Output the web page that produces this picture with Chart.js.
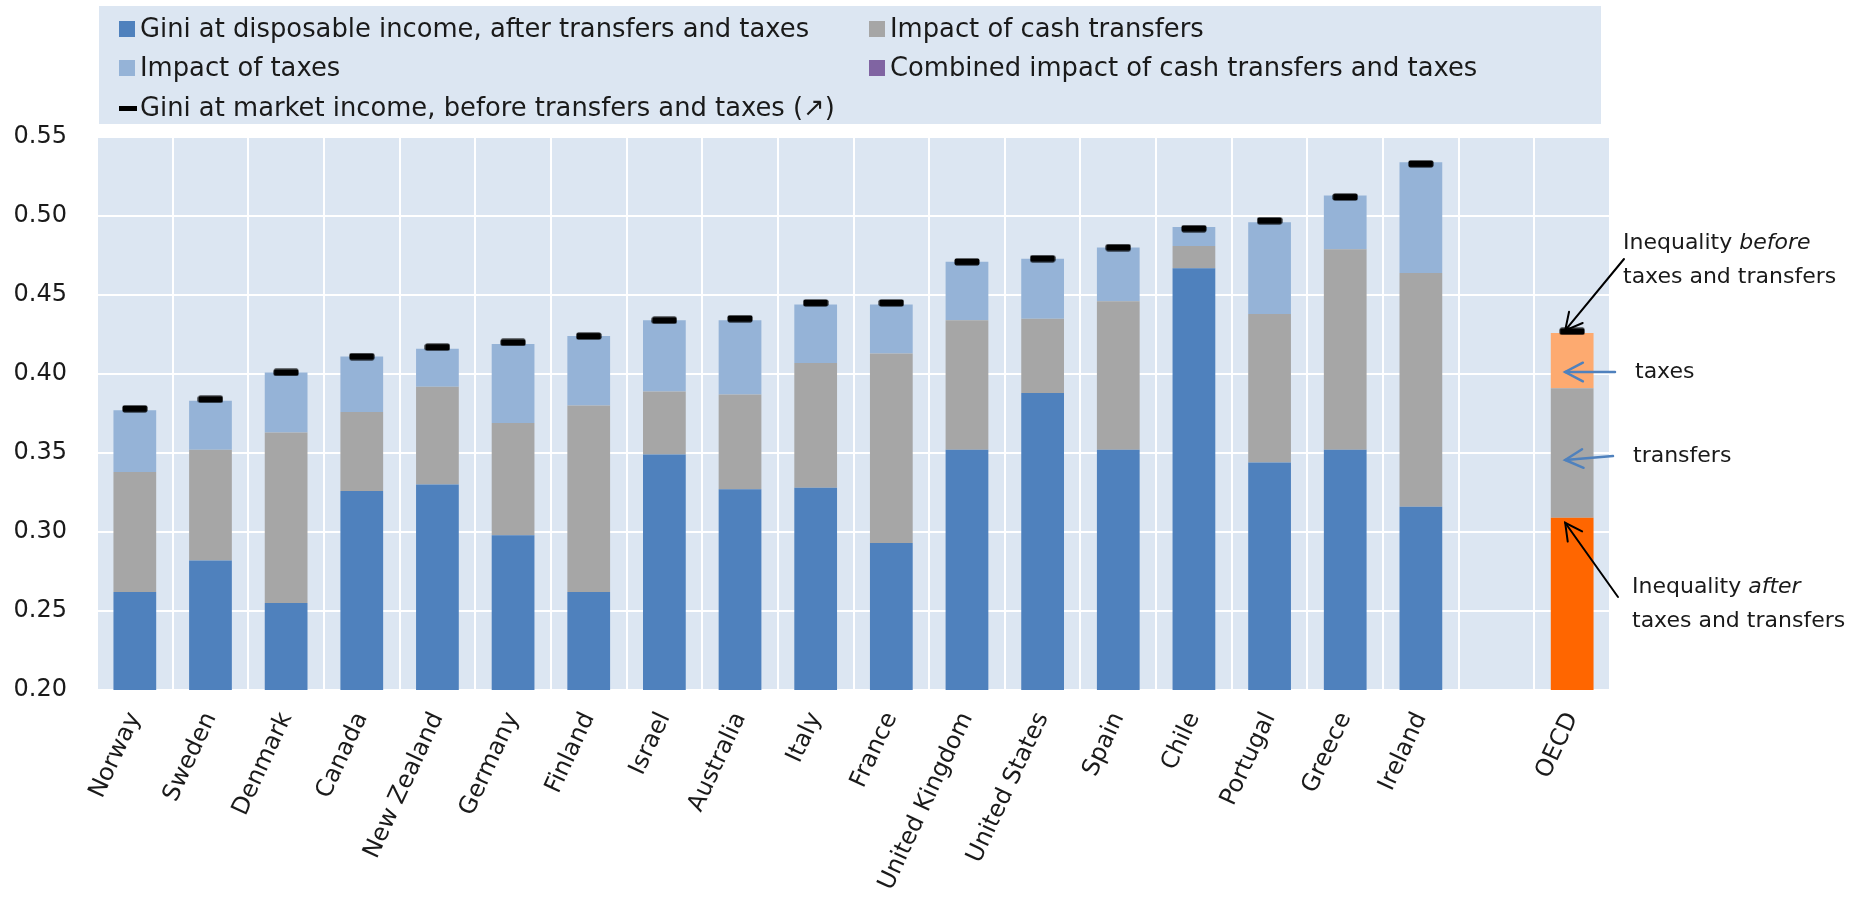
<!DOCTYPE html>
<html>
<head>
<meta charset="utf-8">
<script src="https://cdn.jsdelivr.net/npm/chart.js@4.4.1/dist/chart.umd.min.js"></script>
<style>
html,body{margin:0;padding:0;background:#ffffff;}
#wrap{position:relative;width:1858px;height:909px;}
</style>
</head>
<body>
<div id="wrap"><canvas id="c" width="1858" height="909"></canvas></div>
<script>
// ---- data ----
const categories = ['Norway','Sweden','Denmark','Canada','New Zealand','Germany','Finland','Israel','Australia','Italy','France','United Kingdom','United States','Spain','Chile','Portugal','Greece','Ireland','','OECD'];
const disposableGini = [0.262,0.282,0.255,0.326,0.330,0.298,0.262,0.349,0.327,0.328,0.293,0.352,0.388,0.352,0.467,0.344,0.352,0.316,null,0.309];
const transfersImpact = [0.076,0.070,0.108,0.050,0.062,0.071,0.118,0.040,0.060,0.079,0.120,0.082,0.047,0.094,0.014,0.094,0.127,0.148,null,0.082];
const taxesImpact = [0.039,0.031,0.038,0.035,0.024,0.050,0.044,0.045,0.047,0.037,0.031,0.037,0.038,0.034,0.012,0.058,0.034,0.070,null,0.035];
const combinedImpact = [null,null,null,null,null,null,null,null,null,null,null,null,null,null,null,null,null,null,null,null];
const marketGini = [0.378,0.384,0.401,0.411,0.417,0.420,0.424,0.434,0.435,0.445,0.445,0.471,0.473,0.480,0.492,0.497,0.512,0.533,null,0.427];
const yTicks = [0.20,0.25,0.30,0.35,0.40,0.45,0.50,0.55];
const seriesLabels = ['Gini at disposable income, after transfers and taxes','Impact of cash transfers','Impact of taxes','Combined impact of cash transfers and taxes','Gini at market income, before transfers and taxes (\u2197)'];

// ---- styles ----
const FONT = "'DejaVu Sans', Verdana, sans-serif";
const COL = {blue:'#4F81BD', gray:'#A6A6A6', light:'#95B3D7', purple:'#8064A2', orange:'#FF6600', peach:'#FDAA70', bg:'#DCE6F2', text:'#1a1a1a'};
const perPoint = (c, oecd) => categories.map(n => n === 'OECD' ? oecd : c);

const markerImg = document.createElement('canvas');
markerImg.width = 26; markerImg.height = 8;
(function(){
  const m = markerImg.getContext('2d');
  m.fillStyle = '#000';
  if (m.roundRect) { m.beginPath(); m.roundRect(0.5, 0.5, 25, 7, 2); m.fill(); }
  else m.fillRect(0.5, 0.5, 25, 7);
})();

const plotBg = {
  id: 'plotBg',
  beforeDraw(chart) {
    const {ctx, chartArea: a} = chart;
    ctx.save();
    ctx.fillStyle = COL.bg;
    ctx.fillRect(a.left, a.top, a.right - a.left, a.bottom - a.top);
    ctx.restore();
  }
};

const boxLegend = {
  id: 'boxLegend',
  afterDraw(chart) {
    const ctx = chart.ctx;
    ctx.save();
    ctx.fillStyle = COL.bg;
    ctx.fillRect(99, 6, 1502, 118);
    const slots = [[119, 29], [869, 29], [119, 68], [869, 68], [119, 108]];
    ctx.font = '25.8px ' + FONT;
    ctx.textBaseline = 'middle';
    chart.data.datasets.forEach((ds, i) => {
      const [x, y] = slots[i];
      if (ds.type === 'line') {
        ctx.fillStyle = '#000';
        ctx.fillRect(x, y - 2, 18, 5);
      } else {
        ctx.fillStyle = ds.legendColor;
        ctx.fillRect(x, y - 8, 16, 16);
      }
      ctx.fillStyle = COL.text;
      ctx.fillText(ds.label, x + 21, y + 1);
    });
    ctx.restore();
  }
};

function arrow(ctx, x1, y1, x2, y2, color, w, head) {
  const ang = Math.atan2(y1 - y2, x1 - x2);
  const a = Math.PI / 6.5;
  ctx.save();
  ctx.strokeStyle = color; ctx.lineWidth = w; ctx.lineCap = 'round';
  ctx.beginPath(); ctx.moveTo(x1, y1); ctx.lineTo(x2, y2); ctx.stroke();
  ctx.beginPath();
  ctx.moveTo(x2 + head * Math.cos(ang + a), y2 + head * Math.sin(ang + a));
  ctx.lineTo(x2, y2);
  ctx.lineTo(x2 + head * Math.cos(ang - a), y2 + head * Math.sin(ang - a));
  ctx.stroke();
  ctx.restore();
}

function mixedText(ctx, x, y, parts) {
  let cx = x;
  parts.forEach(([t, italic]) => {
    ctx.font = (italic ? 'italic ' : '') + '22px ' + FONT;
    ctx.fillText(t, cx, y);
    cx += ctx.measureText(t).width;
  });
}

const oecdNotes = {
  id: 'oecdNotes',
  afterDraw(chart) {
    const ctx = chart.ctx, xs = chart.scales.x, ys = chart.scales.y;
    const i = categories.indexOf('OECD');
    const cx = xs.getPixelForValue(i);
    const tipX = cx - 7;
    ctx.save();
    ctx.fillStyle = COL.text;
    ctx.textBaseline = 'middle';
    mixedText(ctx, 1623, 243, [['Inequality ', false], ['before', true]]);
    mixedText(ctx, 1623, 277, [['taxes and transfers', false]]);
    mixedText(ctx, 1635, 372, [['taxes', false]]);
    mixedText(ctx, 1633, 456, [['transfers', false]]);
    mixedText(ctx, 1632, 587, [['Inequality ', false], ['after', true]]);
    mixedText(ctx, 1632, 621, [['taxes and transfers', false]]);
    arrow(ctx, 1624, 259, tipX, ys.getPixelForValue(marketGini[i]) - 1, '#000', 2, 19);
    arrow(ctx, 1615, 372, tipX, 372, COL.blue, 2.5, 20);
    arrow(ctx, 1613, 456, tipX, 460, COL.blue, 2.5, 20);
    arrow(ctx, 1618, 597, tipX, ys.getPixelForValue(disposableGini[i]) + 5, '#000', 2, 19);
    ctx.restore();
  }
};

const barCommon = {stack: 'gini', order: 2, clip: 0, borderWidth: 0, barPercentage: 0.565, categoryPercentage: 1.0};

new Chart(document.getElementById('c'), {
  type: 'bar',
  data: {
    labels: categories,
    datasets: [
      Object.assign({label: seriesLabels[0], data: disposableGini, backgroundColor: perPoint(COL.blue, COL.orange), legendColor: COL.blue}, barCommon),
      Object.assign({label: seriesLabels[1], data: transfersImpact, backgroundColor: COL.gray, legendColor: COL.gray}, barCommon),
      Object.assign({label: seriesLabels[2], data: taxesImpact, backgroundColor: perPoint(COL.light, COL.peach), legendColor: COL.light}, barCommon),
      Object.assign({label: seriesLabels[3], data: combinedImpact, backgroundColor: COL.purple, legendColor: COL.purple}, barCommon),
      {type: 'line', label: seriesLabels[4], data: marketGini, showLine: false, pointStyle: markerImg, pointRadius: 13, stack: 'market', order: 0, clip: false}
    ]
  },
  options: {
    responsive: false,
    animation: false,
    events: [],
    layout: {padding: {top: 137, right: 248, left: 0, bottom: 0}},
    plugins: {legend: {display: false}, tooltip: {enabled: false}},
    scales: {
      x: {
        stacked: true,
        afterFit(s) { s.height = 219; },
        grid: {color: '#ffffff', lineWidth: 2, offset: true, drawTicks: false},
        border: {display: false},
        ticks: {autoSkip: false, maxRotation: 65, minRotation: 65, padding: 18, color: COL.text, font: {family: FONT, size: 24}}
      },
      y: {
        stacked: true,
        min: 0.20, max: 0.55,
        afterFit(s) { s.width = 97; },
        afterBuildTicks(s) { s.ticks = yTicks.map(v => ({value: v})); },
        grid: {color: '#ffffff', lineWidth: 2, drawTicks: false},
        border: {display: false},
        ticks: {padding: 30, color: COL.text, font: {family: FONT, size: 24}, callback: v => Number(v).toFixed(2)}
      }
    }
  },
  plugins: [plotBg, boxLegend, oecdNotes]
});
</script>
</body>
</html>
